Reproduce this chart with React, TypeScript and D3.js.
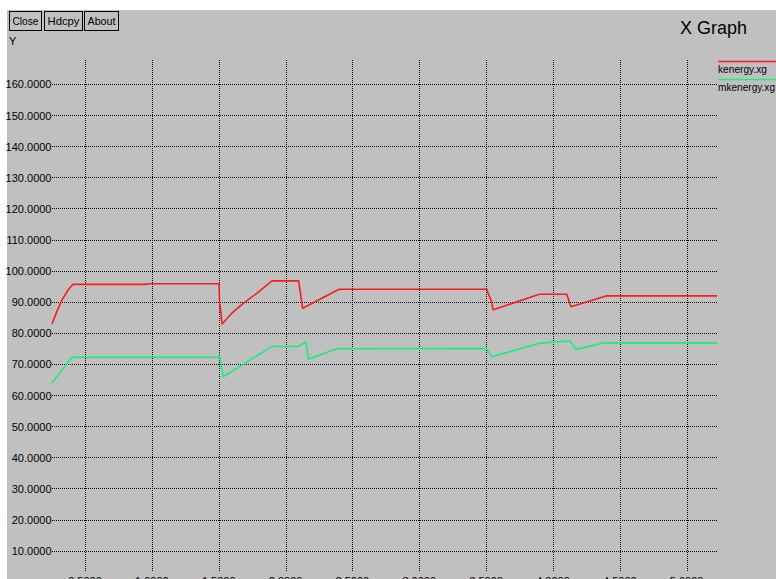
import React, { useRef, useEffect } from 'react';
import * as d3 from 'd3';

// series: [x, y]
const kenergy: [number, number][] = [
  [0.253, 82.85], [0.29, 87.0], [0.326, 90.4], [0.37, 93.6], [0.41, 95.6], [0.964, 95.6], [0.964, 95.8],
  [1.502, 95.8], [1.506, 90.5], [1.525, 82.85], [1.6, 86.4], [1.684, 89.5], [1.784, 92.7],
  [1.846, 94.9], [1.899, 96.7], [2.098, 96.7], [2.128, 87.9], [2.4, 94.0], [3.504, 94.0],
  [3.541, 90.0], [3.552, 87.4], [3.898, 92.4], [4.103, 92.4], [4.135, 88.4],
  [4.402, 91.9], [5.227, 91.9],
];

const mkenergy: [number, number][] = [
  [0.251, 63.8], [0.401, 72.15], [1.497, 72.15], [1.506, 72.8], [1.534, 65.9],
  [1.896, 75.6], [2.095, 75.6], [2.153, 77.2], [2.17, 71.5], [2.383, 74.9],
  [3.504, 75.0], [3.542, 72.3], [3.898, 76.7], [4.128, 77.4], [4.172, 74.7],
  [4.389, 76.8], [5.227, 76.8],
];

const seriesNames = ['kenergy.xg', 'mkenergy.xg'];
const seriesColors = ['#ff1a1a', '#14f07a'];
const xTicks = [0.5, 1.0, 1.5, 2.0, 2.5, 3.0, 3.5, 4.0, 4.5, 5.0];
const yTicks = [10, 20, 30, 40, 50, 60, 70, 80, 90, 100, 110, 120, 130, 140, 150, 160];
const buttons = ['Close', 'Hdcpy', 'About'];

const W = 776;
const H = 579;
const FONT = '"Liberation Sans", Arial, Helvetica, sans-serif';

const App: React.FC = () => {
  const svgRef = useRef<SVGSVGElement>(null);

  useEffect(() => {
    if (!svgRef.current) return;
    const svg = d3.select(svgRef.current);
    svg.selectAll('*').remove();

    // window background
    svg.append('rect').attr('width', W).attr('height', H).attr('fill', '#ffffff');
    svg.append('rect').attr('x', 7).attr('y', 10).attr('width', W - 7).attr('height', H - 10)
      .attr('fill', '#c0c0c0');

    // buttons
    const btnX = [9, 44, 84];
    const btnW = [32, 38, 34];
    buttons.forEach((b, i) => {
      svg.append('rect')
        .attr('x', btnX[i] + 0.5).attr('y', 11.5)
        .attr('width', btnW[i]).attr('height', 19)
        .attr('fill', '#c0c0c0').attr('stroke', '#000').attr('stroke-width', 1);
      svg.append('text')
        .attr('x', btnX[i] + btnW[i] / 2 + 0.5).attr('y', 21)
        .attr('text-anchor', 'middle').attr('dominant-baseline', 'central')
        .attr('font-family', FONT).attr('font-size', 11).attr('fill', '#000')
        .attr('textLength', btnW[i] - 6).attr('lengthAdjust', 'spacingAndGlyphs')
        .text(b);
    });

    svg.append('text')
      .attr('x', 9).attr('y', 41).attr('dominant-baseline', 'central')
      .attr('font-family', FONT).attr('font-size', 11).text('Y');

    svg.append('text')
      .attr('x', 680).attr('y', 34)
      .attr('font-family', FONT).attr('font-size', 18).text('X Graph');

    // scales
    const x = d3.scaleLinear().domain([0.253, 5.227]).range([52, 717]);
    const y = d3.scaleLinear().domain([3.47, 167.7]).range([571, 60]);

    // grid
    const grid = svg.append('g')
      .attr('stroke', '#000').attr('stroke-width', 1)
      .attr('stroke-dasharray', '1,1').attr('shape-rendering', 'crispEdges');
    grid.selectAll('line.h').data(yTicks).enter().append('line')
      .attr('x1', x.range()[0]).attr('x2', x.range()[1])
      .attr('y1', d => Math.round(y(d)) + 0.5).attr('y2', d => Math.round(y(d)) + 0.5);
    grid.selectAll('line.v').data(xTicks).enter().append('line')
      .attr('y1', y.range()[1]).attr('y2', y.range()[0])
      .attr('x1', d => Math.round(x(d)) + 0.5).attr('x2', d => Math.round(x(d)) + 0.5);

    // y labels
    svg.append('g').selectAll('text').data(yTicks).enter().append('text')
      .attr('x', 51.5).attr('y', d => y(d) + 0.5)
      .attr('text-anchor', 'end').attr('dominant-baseline', 'central')
      .attr('font-family', FONT).attr('font-size', 11).attr('fill', '#000')
      .text(d => d.toFixed(4));

    // x labels (cut off by the window, as in the original)
    svg.append('g').selectAll('text').data(xTicks).enter().append('text')
      .attr('x', d => x(d)).attr('y', 577)
      .attr('text-anchor', 'middle').attr('dominant-baseline', 'hanging')
      .attr('font-family', FONT).attr('font-size', 11).attr('fill', '#000')
      .text(d => d.toFixed(4));

    // lines
    const line = d3.line<[number, number]>().x(d => x(d[0])).y(d => y(d[1]));
    [kenergy, mkenergy].forEach((s, i) => {
      svg.append('path')
        .datum(s)
        .attr('d', line)
        .attr('fill', 'none')
        .attr('stroke', seriesColors[i])
        .attr('stroke-width', 1.6)
        .attr('stroke-linejoin', 'round');
    });

    // legend
    seriesNames.forEach((n, i) => {
      const ly = 61 + i * 18;
      svg.append('line')
        .attr('x1', 718).attr('x2', W).attr('y1', ly + 0.5).attr('y2', ly + 0.5)
        .attr('stroke', seriesColors[i]).attr('stroke-width', 1.5);
      svg.append('text')
        .attr('x', 718).attr('y', ly + 8).attr('dominant-baseline', 'central')
        .attr('font-family', FONT).attr('font-size', 11).attr('fill', '#000')
        .attr('textLength', i === 0 ? 49 : 57).attr('lengthAdjust', 'spacingAndGlyphs')
        .text(n);
    });
  }, []);

  return (
    <svg ref={svgRef} width={W} height={H}
      style={{ position: 'absolute', left: 0, top: 0, display: 'block' }} />
  );
};

export default App;
